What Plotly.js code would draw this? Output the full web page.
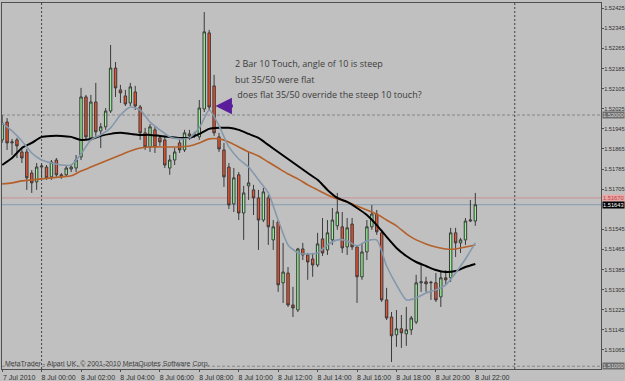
<!DOCTYPE html>
<html><head><meta charset="utf-8">
<script src="https://cdn.plot.ly/plotly-3.0.1.min.js"></script>
<style>html,body{margin:0;padding:0;background:#c0c0c0;}#chart{width:625px;height:381px;}</style>
</head><body><div id="chart"></div>
<script>
// M15 bars, 7 Jul 2010 22:00 -> 8 Jul 2010 22:00
const startTime = [2010, 6, 7, 22, 0]; // UTC parts (month 0-based)
const barMinutes = 15;

const openP = [1.51901,1.51972,1.51889,1.51901,1.51853,1.51853,1.51769,1.51734,
1.51793,1.51793,1.51754,1.51821,1.51762,1.51762,1.51785,1.51789,1.51833,1.52072,1.51909,1.52052,1.51937,1.51953,1.52016,1.52187,
1.52100,1.52076,1.52048,1.52092,1.52032,1.51929,1.51873,1.51941,1.51909,1.51901,1.51789,1.51821,1.51889,1.51861,1.51925,1.51925,
1.51913,1.52024,1.52327,1.52116,1.51913,1.51861,1.51793,1.51646,1.51762,1.51610,1.51718,1.51702,1.51670,1.51582,1.51670,1.51503,
1.51574,1.51332,1.51371,1.51244,1.51224,1.51467,1.51443,1.51427,1.51403,1.51507,1.51463,1.51503,1.51559,1.51555,1.51475,1.51566,
1.51475,1.51356,1.51455,1.51555,1.51606,1.51531,1.51264,1.51196,1.51125,1.51149,1.51129,1.51145,1.51176,1.51332,1.51336,1.51332,
1.51332,1.51276,1.51352,1.51352,1.51531,1.51491,1.51503,1.51578,1.51578];
const highP = [1.52000,1.51988,1.51905,1.51909,1.51873,1.51865,1.51781,1.51809,
1.51805,1.51801,1.51821,1.51829,1.51769,1.51797,1.51801,1.51841,1.52108,1.52080,1.52080,1.52128,1.51968,1.52028,1.52279,1.52211,
1.52120,1.52100,1.52128,1.52116,1.52040,1.51949,1.51964,1.51953,1.51921,1.51913,1.51841,1.51869,1.51901,1.51941,1.51941,1.51933,
1.52060,1.52410,1.52339,1.52160,1.51929,1.51889,1.51809,1.51789,1.51773,1.51718,1.51853,1.51722,1.51702,1.51710,1.51682,1.51582,
1.51582,1.51491,1.51395,1.51316,1.51471,1.51491,1.51451,1.51451,1.51531,1.51590,1.51582,1.51630,1.51690,1.51614,1.51590,1.51590,
1.51483,1.51491,1.51582,1.51642,1.51622,1.51543,1.51312,1.51216,1.51224,1.51204,1.51236,1.51200,1.51364,1.51411,1.51356,1.51340,
1.51371,1.51375,1.51383,1.51551,1.51551,1.51511,1.51590,1.51662,1.51690];
const lowP = [1.51889,1.51861,1.51841,1.51829,1.51809,1.51702,1.51690,1.51702,
1.51750,1.51742,1.51742,1.51754,1.51746,1.51754,1.51773,1.51773,1.51821,1.51901,1.51897,1.51917,1.51869,1.51941,1.52008,1.52072,
1.52048,1.52036,1.52036,1.52020,1.51901,1.51861,1.51853,1.51849,1.51877,1.51789,1.51762,1.51801,1.51849,1.51853,1.51901,1.51909,
1.51901,1.52012,1.52020,1.51917,1.51853,1.51714,1.51626,1.51614,1.51582,1.51503,1.51662,1.51602,1.51463,1.51574,1.51483,1.51463,
1.51296,1.51252,1.51236,1.51196,1.51216,1.51423,1.51344,1.51356,1.51395,1.51439,1.51443,1.51483,1.51543,1.51451,1.51443,1.51463,
1.51252,1.51344,1.51423,1.51543,1.51523,1.51256,1.51184,1.51017,1.51077,1.51073,1.51081,1.51125,1.51168,1.51296,1.51296,1.51264,
1.51256,1.51236,1.51324,1.51336,1.51435,1.51451,1.51483,1.51574,1.51559];
const closeP = [1.51968,1.51889,1.51893,1.51877,1.51829,1.51750,1.51730,1.51793,
1.51797,1.51750,1.51813,1.51762,1.51754,1.51789,1.51793,1.51821,1.52072,1.51913,1.52052,1.51933,1.51953,1.52016,1.52187,1.52108,
1.52088,1.52044,1.52112,1.52036,1.51929,1.51873,1.51953,1.51873,1.51893,1.51801,1.51821,1.51853,1.51861,1.51929,1.51917,1.51917,
1.52028,1.52331,1.52032,1.51929,1.51865,1.51754,1.51642,1.51750,1.51610,1.51690,1.51730,1.51670,1.51582,1.51694,1.51555,1.51555,
1.51324,1.51375,1.51244,1.51232,1.51467,1.51443,1.51415,1.51403,1.51487,1.51451,1.51531,1.51582,1.51614,1.51471,1.51551,1.51475,
1.51356,1.51455,1.51555,1.51606,1.51535,1.51264,1.51192,1.51121,1.51149,1.51133,1.51145,1.51192,1.51332,1.51336,1.51328,1.51334,
1.51264,1.51352,1.51344,1.51531,1.51491,1.51503,1.51578,1.51582,1.51643];

// moving averages read every 2nd bar
const maStep = 2;
const ma10 = [1.51968,1.51937,1.51897,1.51849,1.51821,1.51809,1.51801,1.51801,1.51845,1.51901,1.51921,1.51949,1.52000,1.52032,1.52020,1.51972,
1.51941,1.51913,1.51905,1.51909,1.51949,1.52020,1.51957,1.51873,1.51825,1.51793,1.51742,1.51690,1.51582,1.51483,1.51451,1.51447,
1.51451,1.51483,1.51503,1.51499,1.51479,1.51499,1.51503,1.51399,1.51324,1.51264,1.51272,1.51292,1.51304,1.51324,1.51371,1.51427,1.51491];
const ma35 = [1.51801,1.51829,1.51869,1.51889,1.51913,1.51917,1.51917,1.51913,1.51901,1.51905,1.51917,1.51925,1.51929,1.51925,1.51921,1.51921,
1.51917,1.51913,1.51909,1.51909,1.51925,1.51945,1.51949,1.51949,1.51941,1.51925,1.51909,1.51881,1.51853,1.51825,1.51797,1.51769,
1.51742,1.51702,1.51670,1.51654,1.51630,1.51602,1.51562,1.51515,1.51471,1.51439,1.51415,1.51399,1.51383,1.51375,1.51379,1.51395,1.51407];
const ma50 = [1.51726,1.51730,1.51738,1.51742,1.51746,1.51750,1.51754,1.51758,1.51777,1.51793,1.51809,1.51825,1.51841,1.51857,1.51869,1.51873,
1.51873,1.51873,1.51873,1.51877,1.51889,1.51905,1.51905,1.51893,1.51873,1.51853,1.51837,1.51813,1.51789,1.51765,1.51746,1.51722,
1.51702,1.51682,1.51666,1.51654,1.51638,1.51622,1.51606,1.51582,1.51559,1.51527,1.51503,1.51487,1.51475,1.51467,1.51467,1.51475,1.51483];

const yTicks = [1.52425,1.52345,1.52265,1.52185,1.52105,1.52025,1.51945,1.51865,1.51785,1.51705,1.51545,1.51465,1.51385,1.51305,1.51225,1.51145,1.51065];
const xTickTimes = ['2010-07-07 22:00','2010-07-08 00:00','2010-07-08 02:00','2010-07-08 04:00','2010-07-08 06:00','2010-07-08 08:00','2010-07-08 10:00',
'2010-07-08 12:00','2010-07-08 14:00','2010-07-08 16:00','2010-07-08 18:00','2010-07-08 20:00','2010-07-08 22:00'];
const xTickLabels = ['7 Jul 2010','8 Jul 00:00','8 Jul 02:00','8 Jul 04:00','8 Jul 06:00','8 Jul 08:00','8 Jul 10:00',
'8 Jul 12:00','8 Jul 14:00','8 Jul 16:00','8 Jul 18:00','8 Jul 20:00','8 Jul 22:00'];
const bidPrice = 1.51643, askPrice = 1.51670;
const levelLines = [1.52000, 1.51000];
const separators = ['2010-07-08 00:00','2010-07-09 00:00'];
const noteLines = ['2 Bar 10 Touch, angle of 10 is steep','but 35/50 were flat',' does flat 35/50 override the steep 10 touch?'];

function fmt(d){const p=n=>String(n).padStart(2,'0');
  return d.getUTCFullYear()+'-'+p(d.getUTCMonth()+1)+'-'+p(d.getUTCDate())+' '+p(d.getUTCHours())+':'+p(d.getUTCMinutes())+':'+p(d.getUTCSeconds());}
const t0 = Date.UTC(...startTime);
const times = openP.map((_,i)=>fmt(new Date(t0 + i*barMinutes*60000)));
const maTimes = ma10.map((_,k)=>times[k*maStep]);

const traces = [
 {type:'candlestick', x:times, open:openP, high:highP, low:lowP, close:closeP,
  increasing:{line:{color:'#3a3a3a',width:1}, fillcolor:'#96f096'},
  decreasing:{line:{color:'#3a3a3a',width:1}, fillcolor:'#f0502a'},
  whiskerwidth:0, hoverinfo:'skip'},
 {type:'scatter', mode:'lines', x:maTimes, y:ma50, line:{color:'#b4602a',width:1.6,shape:'spline',smoothing:0.6}, hoverinfo:'skip'},
 {type:'scatter', mode:'lines', x:maTimes, y:ma35, line:{color:'#000000',width:2,shape:'spline',smoothing:0.6}, hoverinfo:'skip'},
 {type:'scatter', mode:'lines', x:maTimes, y:ma10, line:{color:'#8498ab',width:1.6,shape:'spline',smoothing:0.6}, hoverinfo:'skip'}
];

const shapes = [];
levelLines.forEach(v=>shapes.push({type:'line',xref:'paper',x0:0,x1:1,yref:'y',y0:v,y1:v,layer:'below',line:{color:'#858585',width:1,dash:'3px,2px'}}));
shapes.push({type:'line',xref:'paper',x0:0,x1:1,yref:'y',y0:askPrice,y1:askPrice,layer:'below',line:{color:'#c89090',width:1}});
shapes.push({type:'line',xref:'paper',x0:0,x1:1,yref:'y',y0:bidPrice,y1:bidPrice,layer:'below',line:{color:'#8fa3b5',width:1.2}});
separators.forEach(t=>shapes.push({type:'line',xref:'x',x0:t,x1:t,yref:'paper',y0:0,y1:1,layer:'below',line:{color:'#404040',width:1,dash:'2px,2px'}}));

function axisBox(v,bg,fg){return {xref:'paper',x:1,xanchor:'left',xshift:1,yref:'y',y:v,yanchor:'middle',text:v.toFixed(5),
  showarrow:false,bgcolor:bg,font:{size:5.7,color:fg,family:'Liberation Sans, Arial, sans-serif'},borderpad:0};}
const annotations = [
 axisBox(levelLines[0],'#6e6e6e','#d8d8d8'),
 axisBox(levelLines[1],'#6e6e6e','#d8d8d8'),
 axisBox(askPrice,'#e8a8a8','#c04040'),
 axisBox(bidPrice,'#000000','#ffffff'),
 {xref:'paper',x:0,xanchor:'left',xshift:1,yref:'paper',y:0.014,yanchor:'middle',showarrow:false,
  text:'MetaTrader - Alpari UK, \u00a9 2001-2010 MetaQuotes Software Corp.',font:{size:7,color:'#404040',family:'Liberation Sans, Arial, sans-serif'}},
 {xref:'x',x:'2010-07-08 08:49',yref:'y',y:1.52036,ax:19,ay:0,text:'',showarrow:true,arrowhead:2,arrowsize:1.1,arrowwidth:3,arrowcolor:'#5a1e9c'}
];
const noteY = [1.52207, 1.52143, 1.52083];
noteLines.forEach((s,k)=>annotations.push({xref:'x',x:'2010-07-08 09:41',xanchor:'left',yref:'y',y:noteY[k],yanchor:'middle',
  text:s.replace(/^ /,'\u00a0'),showarrow:false,font:{size:9,color:'#3c3c3c',family:'Open Sans, Noto Sans, sans-serif'}}));

const layout = {
 width:625, height:381, margin:{l:2,r:24,t:3,b:12,pad:0},
 paper_bgcolor:'#c0c0c0', plot_bgcolor:'#c0c0c0', showlegend:false,
 font:{family:'Liberation Sans, Arial, sans-serif', size:7, color:'#303030'},
 xaxis:{type:'date', range:['2010-07-07 21:59:30','2010-07-09 04:22:30'], rangeslider:{visible:false},
  showgrid:false, zeroline:false, showline:true, mirror:true, linecolor:'#505050', linewidth:1,
  tickmode:'array', tickvals:xTickTimes, ticktext:xTickLabels, ticks:'outside', ticklen:2, tickcolor:'#505050',
  ticklabelshift:17, tickfont:{size:7,color:'#303030'}},
 yaxis:{side:'right', range:[1.50989,1.52446], showgrid:false, zeroline:false, showline:true, mirror:true,
  linecolor:'#505050', linewidth:1, tickmode:'array', tickvals:yTicks, ticktext:yTicks.map(v=>v.toFixed(5)),
  ticks:'outside', ticklen:2, tickcolor:'#505050', ticklabelstandoff:-1, tickfont:{size:5.7,color:'#303030'}},
 shapes:shapes, annotations:annotations
};
Plotly.newPlot('chart', traces, layout, {staticPlot:true, displayModeBar:false});
</script></body></html>
